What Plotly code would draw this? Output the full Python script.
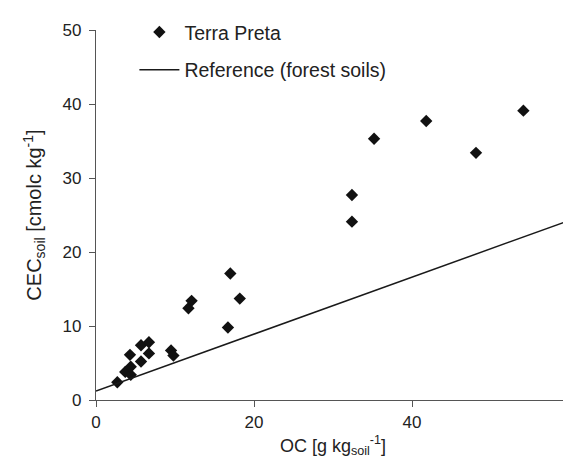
import plotly.graph_objects as go

# Terra Preta samples (OC [g/kg soil], CEC [cmolc/kg])
tp_oc = [2.7, 3.7, 4.4, 4.4, 4.3, 5.7, 5.7, 6.7, 6.7, 9.5, 9.8, 11.7, 12.1,
         16.7, 17.0, 18.2, 32.4, 32.4, 35.2, 41.8, 48.1, 54.1]
tp_cec = [2.4, 3.8, 3.4, 4.5, 6.1, 5.2, 7.4, 7.8, 6.3, 6.7, 6.0, 12.4, 13.4,
          9.8, 17.1, 13.7, 24.1, 27.7, 35.3, 37.7, 33.4, 39.1]

# Reference line (forest soils)
ref_oc = [0, 60]
ref_cec = [1.2, 24.3]

x_ticks = [0, 20, 40, 60]
y_ticks = [0, 10, 20, 30, 40, 50]

FONT = "Liberation Sans, Arial, sans-serif"

fig = go.Figure()
fig.add_trace(go.Scatter(
    x=tp_oc, y=tp_cec, mode="markers", name="Terra Preta",
    legendgroup="a",
    marker=dict(symbol="diamond", size=9.5, color="#111111",
                line=dict(width=0)),
))
fig.add_trace(go.Scatter(
    x=ref_oc, y=ref_cec, mode="lines", name="Reference (forest soils)",
    legendgroup="b",
    line=dict(color="#1a1a1a", width=1.5),
))

axis_common = dict(
    showgrid=False, zeroline=False, showline=True, linecolor="#555555",
    linewidth=1.2, ticks="outside", ticklen=6, tickcolor="#555555",
    tickwidth=1.2, tickfont=dict(size=17, color="#222222", family=FONT),
)

fig.update_layout(
    width=571, height=456,
    margin=dict(l=88, r=9, t=22, b=64, autoexpand=False),
    paper_bgcolor="white", plot_bgcolor="white",
    font=dict(family=FONT, color="#222222"),
    showlegend=True,
    legend=dict(
        x=0.081, y=1.0465, xanchor="left", yanchor="top",
        font=dict(size=19.5, color="#222222", family=FONT),
        bgcolor="rgba(0,0,0,0)", traceorder="grouped", tracegroupgap=9.4,
        itemwidth=40,
    ),
    xaxis=dict(
        range=[0, 60], tickvals=x_ticks,
        title=dict(text="OC [g kg<sub>soil</sub><sup>-1</sup>]",
                   font=dict(size=18, color="#222222", family=FONT), standoff=8),
        **axis_common,
    ),
    yaxis=dict(
        range=[0, 50], tickvals=y_ticks, ticklabelstandoff=4,
        title=dict(text="CEC<sub>soil</sub> [cmolc kg<sup>-1</sup>]",
                   font=dict(size=20, color="#222222", family=FONT), standoff=15),
        **axis_common,
    ),
)

fig.write_html("out.html")
